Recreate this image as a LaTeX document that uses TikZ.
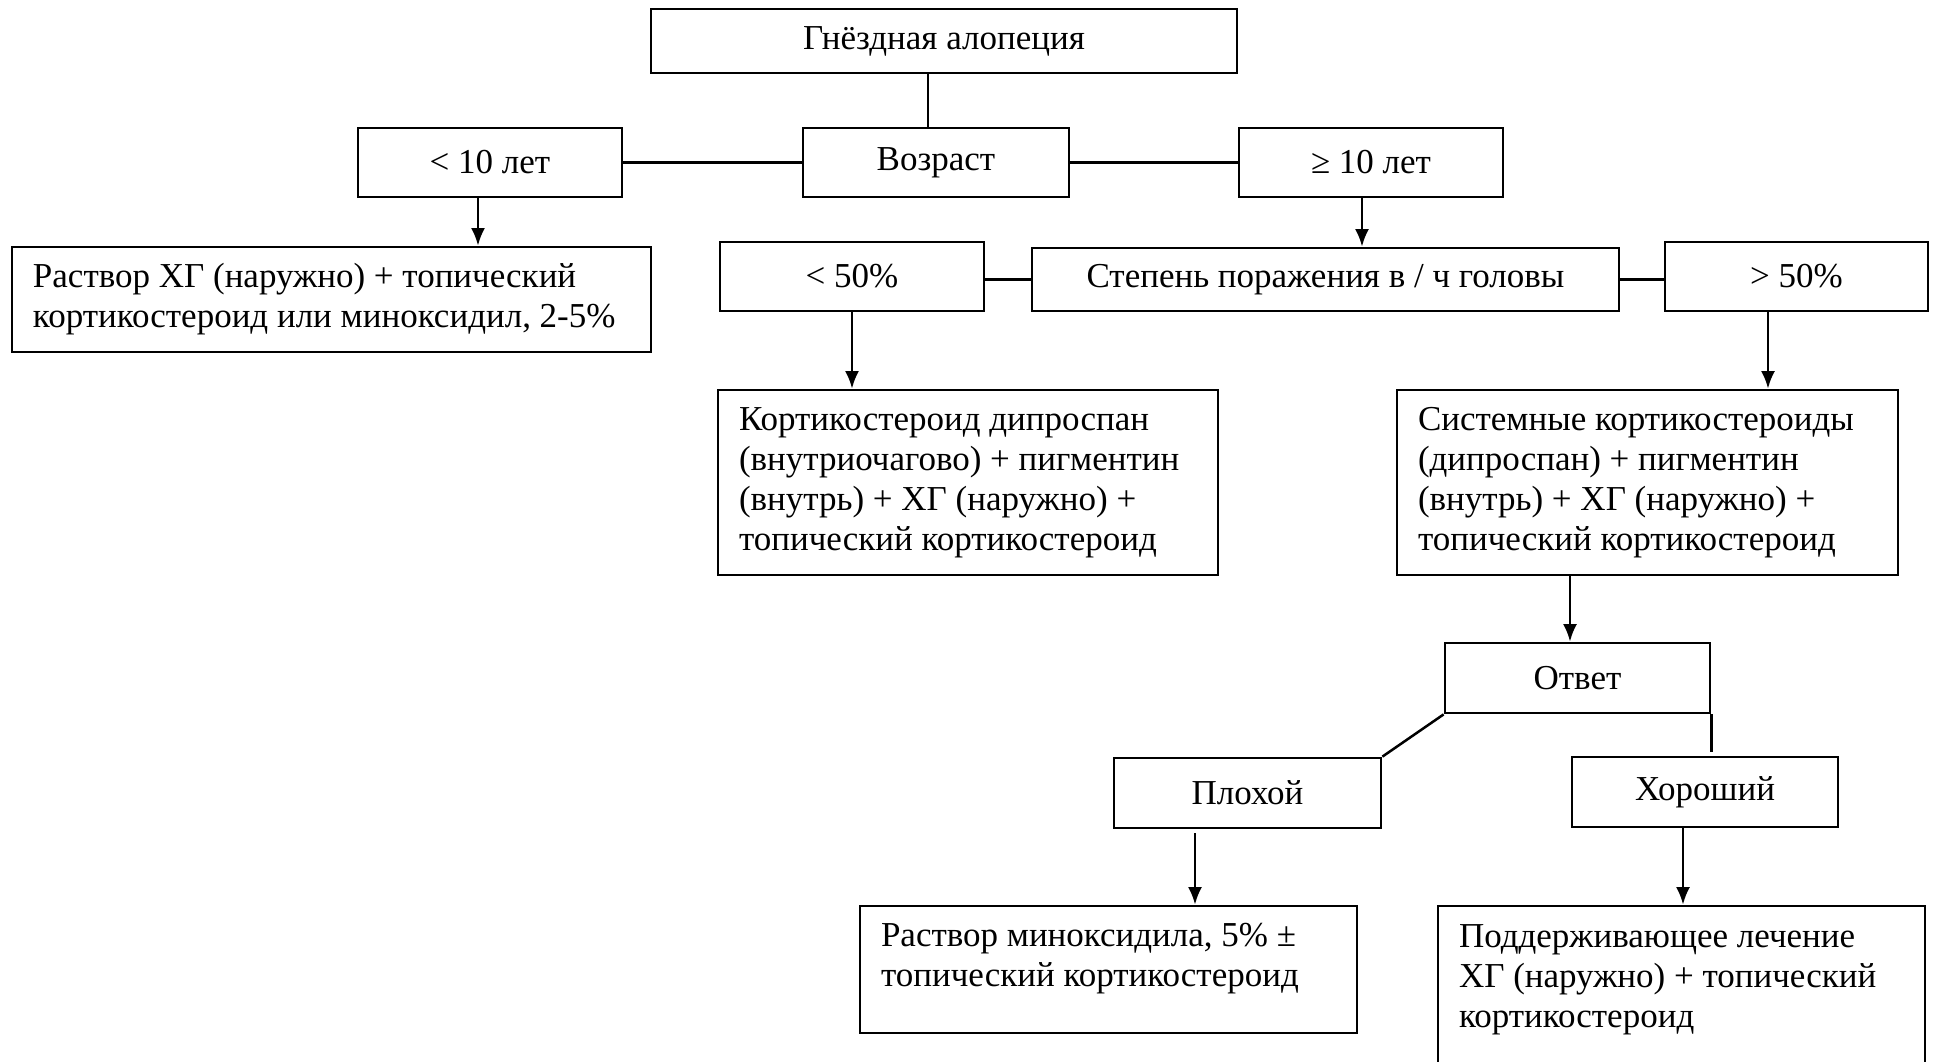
\documentclass[tikz,border=0pt]{standalone}
\usepackage{fontspec}
\setmainfont{Liberation Serif}
\usetikzlibrary{arrows.meta}

\begin{document}
\begin{tikzpicture}[x=0.4pt,y=-0.4pt,-,>={Latex[length=7pt,width=5.6pt]},line width=1pt,main node/.style={draw,line width=1.1pt,inner sep=0pt,font=\fontsize{14}{16}\selectfont},text node/.style={main node,align=flush left,inner xsep=8.4pt}]

            \useasboundingbox (0,0) rectangle (1934,1061);
            \clip (0,0) rectangle (1934,1061);

            \node[main node, minimum width=234.4pt, minimum height=25.6pt] (1) at (944,41) {Гнёздная алопеция};
            \node[main node, minimum width=105.6pt, minimum height=27.6pt] (2) at (490,162.5) {< 10 лет};
            \node[main node, minimum width=106.4pt, minimum height=27.6pt] (3) at (936,162.5) {Возраст};
            \node[main node, minimum width=105.6pt, minimum height=27.6pt] (4) at (1371,162.5) {≥ 10 лет};
            \node[text node, minimum width=255.6pt, minimum height=42pt, text width=238.8pt] (5) at (331.5,299.5) {Раствор ХГ (наружно) + топический\\кортикостероид или миноксидил, 2-5\%};
            \node[main node, minimum width=105.6pt, minimum height=27.6pt] (6) at (852,276.5) {< 50\%};
            \node[main node, minimum width=234.8pt, minimum height=25.2pt] (7) at (1325.5,279.5) {Степень поражения в / ч головы};
            \node[main node, minimum width=105.2pt, minimum height=27.6pt] (8) at (1796.5,276.5) {> 50\%};
            \node[text node, minimum width=200pt, minimum height=74pt, text width=183.2pt] (9) at (968,482.5) {Кортикостероид дипроспан\\(внутриочагово) + пигментин\\(внутрь) + ХГ (наружно) +\\топический кортикостероид};
            \node[text node, minimum width=200.4pt, minimum height=74pt, text width=183.6pt] (10) at (1647.5,482.5) {Системные кортикостероиды\\(дипроспан) + пигментин\\(внутрь) + ХГ (наружно) +\\топический кортикостероид};
            \node[main node, minimum width=106pt, minimum height=28pt] (11) at (1577.5,678) {Ответ};
            \node[main node, minimum width=106.8pt, minimum height=28pt] (12) at (1247.5,793) {Плохой};
            \node[main node, minimum width=106.4pt, minimum height=28pt] (13) at (1705,792) {Хороший};
            \node[text node, minimum width=198.8pt, minimum height=50.8pt, text width=182pt, text depth=28pt] (14) at (1108.5,969.5) {Раствор миноксидила, 5\% ±\\топический кортикостероид};
            \node[text node, minimum width=194.8pt, minimum height=80pt, text width=178pt, text depth=56pt] (15) at (1681.5,1006) {Поддерживающее лечение\\ХГ (наружно) + топический\\кортикостероид};

            \coordinate (a1) at ([xshift=-6.4pt]1.south);
            \coordinate (a2) at ([xshift=-4.8pt]2.south);
            \coordinate (a3) at ([xshift=-3.6pt]4.south);
            \coordinate (a4) at ([xshift=-11.4pt]8.south);
            \coordinate (a5) at ([xshift=-3pt]11.north);
            \coordinate (a6) at ([xshift=-21pt]12.south);
            \coordinate (a7) at ([xshift=-8.8pt]13.south);

            \draw[-] (a1) to (a1 |- 3.north);
            \draw[-] (2.east) to (3.west);
            \draw[-] (3.east) to (4.west);
            \draw[->] (a2) to (a2 |- 5.north);
            \draw[->] (a3) to (a3 |- 7.north);
            \draw[-] (7.west) to (7.west -| 6.east);
            \draw[-] (7.east) to (7.east -| 8.west);
            \draw[->] (6.south) to (6.south |- 9.north);
            \draw[->] (a4) to (a4 |- 10.north);
            \draw[->] (a5 |- 10.south) to (a5);
            \draw[-] (11.south west) to (12.north east);
            \draw[-, shorten >=1.6pt] (11.south east) to (11.south east |- 13.north);
            \draw[->, shorten <=1.6pt] (a6) to (a6 |- 14.north);
            \draw[->] (a7) to (a7 |- 15.north);

\end{tikzpicture}
\end{document}
